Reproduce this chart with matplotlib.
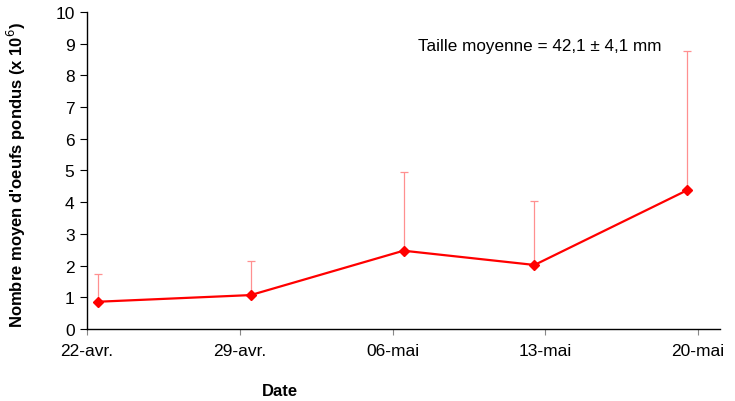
import matplotlib
matplotlib.use("Agg")
import matplotlib.pyplot as plt
import numpy as np
from datetime import datetime, timedelta

plt.rcParams['font.family'] = ['Liberation Sans', 'DejaVu Sans']

# Sampling dates and mean number of eggs laid (x 10^6) with upper error
dates = ["2008-04-22", "2008-04-29", "2008-05-06", "2008-05-12", "2008-05-19"]
mean_eggs = [0.86, 1.07, 2.47, 2.02, 4.38]
err_upper = [0.86, 1.06, 2.47, 2.03, 4.38]
tick_dates = ["2008-04-22", "2008-04-29", "2008-05-06", "2008-05-13", "2008-05-20"]
tick_labels = ["22-avr.", "29-avr.", "06-mai", "13-mai", "20-mai"]

x = [datetime.strptime(d, "%Y-%m-%d") + timedelta(hours=12) for d in dates]
ticks = [datetime.strptime(d, "%Y-%m-%d") for d in tick_dates]

fig = plt.figure(figsize=(7.35, 4.02), dpi=100)
ax = fig.add_axes([0.1184, 0.1791, 0.8612, 0.7886])

ax.errorbar(x, mean_eggs, yerr=[np.zeros(len(err_upper)), err_upper],
            fmt='none', ecolor='#ff9090', elinewidth=0.9, capsize=3, capthick=0.9,
            zorder=2)
ax.plot(x, mean_eggs, color='#ff0000', lw=1.6, marker='D', ms=5,
        mfc='#ff0000', mec='#ff0000', zorder=3)

ax.set_xlim(datetime(2008, 4, 22), datetime(2008, 5, 21))
ax.set_ylim(0, 10)
ax.set_yticks(range(0, 11))
ax.set_xticks(ticks)
ax.set_xticklabels(tick_labels)

for s in ['top', 'right']:
    ax.spines[s].set_visible(False)
for s in ['left', 'bottom']:
    ax.spines[s].set_linewidth(1.0)
    ax.spines[s].set_color('black')

ax.tick_params(axis='y', direction='out', length=5, width=0.8, labelsize=12.5, pad=4)
ax.tick_params(axis='x', direction='out', length=4, width=0.8, color='#888888',
               labelsize=12.5, pad=6)

ax.set_ylabel("Nombre moyen d'oeufs pondus (x 10$^6$)", fontsize=12,
              fontweight='bold')
ax.yaxis.set_label_coords(-0.094, 0.489)
fig.text(0.381, 0.014, "Date", fontsize=12, fontweight='bold', ha='center', va='baseline')

ax.text(0.716, 0.893, "Taille moyenne = 42,1 ± 4,1 mm", transform=ax.transAxes,
        fontsize=12.3, ha='center', va='center')

fig.savefig("out.png", dpi=100)
